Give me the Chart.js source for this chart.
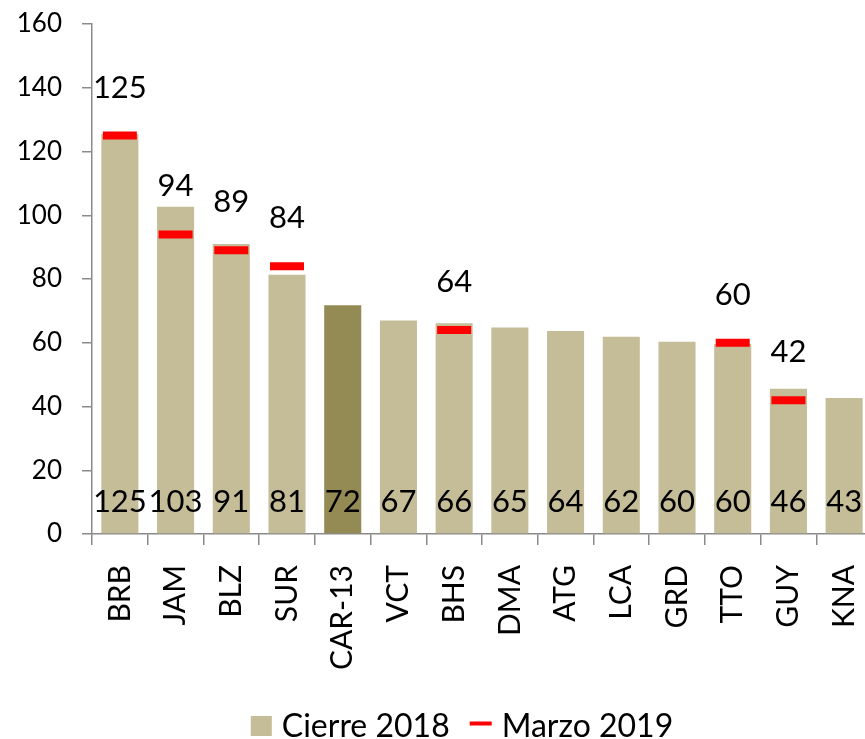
<!DOCTYPE html>
<html>
<head>
<meta charset="utf-8">
<script src="https://cdn.jsdelivr.net/npm/chart.js@4/dist/chart.umd.min.js"></script>
<style>
  html, body { margin: 0; padding: 0; background: #fff; overflow: hidden; }
  #wrap { width: 880px; height: 739px; }
</style>
</head>
<body>
<div id="wrap"><canvas id="c" width="880" height="739"></canvas></div>
<script>
const categories = ['BRB','JAM','BLZ','SUR','CAR-13','VCT','BHS','DMA','ATG','LCA','GRD','TTO','GUY','KNA'];
const cierre2018 = [125.4,102.7,91.0,81.3,71.8,67.0,66.1,64.8,63.7,61.9,60.3,59.6,45.6,42.7];
const marzo2019 = [125,94,89,84,null,null,64,null,null,null,null,60,42,null];
const yTicks = [0,20,40,60,80,100,120,140,160];
const seriesNames = ['Cierre 2018','Marzo 2019'];

const TAN = '#C4BD97';
const DARK = '#948A54';
const RED = '#FF0000';
const AXIS = '#8a8a8a';
const FONT = "Lato, 'Open Sans', sans-serif";

const barColors = categories.map(c => c === 'CAR-13' ? DARK : TAN);

const labelPlugin = {
  id: 'valueLabels',
  afterDatasetsDraw(chart) {
    const ctx = chart.ctx;
    const ys = chart.scales.y;
    ctx.save();
    ctx.fillStyle = '#000';
    ctx.textAlign = 'center';
    ctx.textBaseline = 'middle';
    ctx.font = '31px ' + FONT;
    const m0 = chart.getDatasetMeta(0);
    m0.data.forEach((bar, i) => {
      ctx.fillText(String(Math.round(cierre2018[i])), bar.x, ys.getPixelForValue(0) - 32);
    });
    const m1 = chart.getDatasetMeta(1);
    m1.data.forEach((pt, i) => {
      if (marzo2019[i] === null) return;
      ctx.fillText(String(marzo2019[i]), pt.x, pt.y - 48);
    });
    ctx.restore();
  }
};

const legendPlugin = {
  id: 'customLegend',
  afterDraw(chart) {
    const ctx = chart.ctx;
    ctx.save();
    ctx.font = '32px ' + FONT;
    ctx.textBaseline = 'alphabetic';
    ctx.textAlign = 'left';
    const w1 = ctx.measureText(seriesNames[0]).width;
    const w2 = ctx.measureText(seriesNames[1]).width;
    const boxW = 21, gapT = 10, gapI = 20, lineW = 22;
    const total = boxW + gapT + w1 + gapI + lineW + gapT + w2;
    let x = 462 - total / 2;
    const base = 737;
    ctx.fillStyle = TAN;
    ctx.fillRect(x, 716, boxW, 20);
    x += boxW + gapT;
    ctx.fillStyle = '#000';
    ctx.fillText(seriesNames[0], x, base);
    x += w1 + gapI;
    ctx.strokeStyle = RED;
    ctx.lineWidth = 4;
    ctx.beginPath();
    ctx.moveTo(x, 723.5);
    ctx.lineTo(x + lineW, 723.5);
    ctx.stroke();
    x += lineW + gapT;
    ctx.fillText(seriesNames[1], x, base);
    ctx.restore();
  }
};

new Chart(document.getElementById('c'), {
  data: {
    labels: categories,
    datasets: [
      {
        type: 'bar',
        label: seriesNames[0],
        data: cierre2018,
        backgroundColor: barColors,
        borderWidth: 0,
        barPercentage: 0.665,
        categoryPercentage: 1.0,
        order: 2
      },
      {
        type: 'line',
        label: seriesNames[1],
        data: marzo2019,
        showLine: false,
        pointStyle: 'line',
        pointRadius: 17,
        pointHoverRadius: 17,
        pointBorderWidth: 8,
        pointHoverBorderWidth: 8,
        pointBorderColor: RED,
        pointBackgroundColor: RED,
        order: 1
      }
    ]
  },
  options: {
    responsive: false,
    animation: false,
    devicePixelRatio: 1,
    layout: { autoPadding: false, padding: { left: 0, right: 8, top: 24, bottom: 70 } },
    plugins: {
      tooltip: { enabled: false },
      legend: { display: false }
    },
    scales: {
      x: {
        grid: { display: true, offset: true, drawOnChartArea: false, drawTicks: true, tickLength: 11, color: AXIS, lineWidth: 1.5 },
        border: { display: true, color: AXIS, width: 1.5 },
        ticks: { minRotation: 90, maxRotation: 90, autoSkip: false, padding: 20, color: '#000', font: { size: 30, family: FONT } },
        afterFit(s) { s.height = 135; s.paddingLeft = 0; s.paddingRight = 0; }
      },
      y: {
        min: 0,
        max: 160,
        afterBuildTicks(s) { s.ticks = yTicks.map(v => ({ value: v })); },
        grid: { display: true, drawOnChartArea: false, drawTicks: true, tickLength: 10, color: AXIS, lineWidth: 1.5 },
        border: { display: true, color: AXIS, width: 1.5 },
        ticks: { padding: 20, color: '#000', font: { size: 26, family: FONT } },
        afterFit(s) { s.width = 92; s.paddingTop = 0; s.paddingBottom = 0; }
      }
    }
  },
  plugins: [labelPlugin, legendPlugin]
});
</script>
</body>
</html>
